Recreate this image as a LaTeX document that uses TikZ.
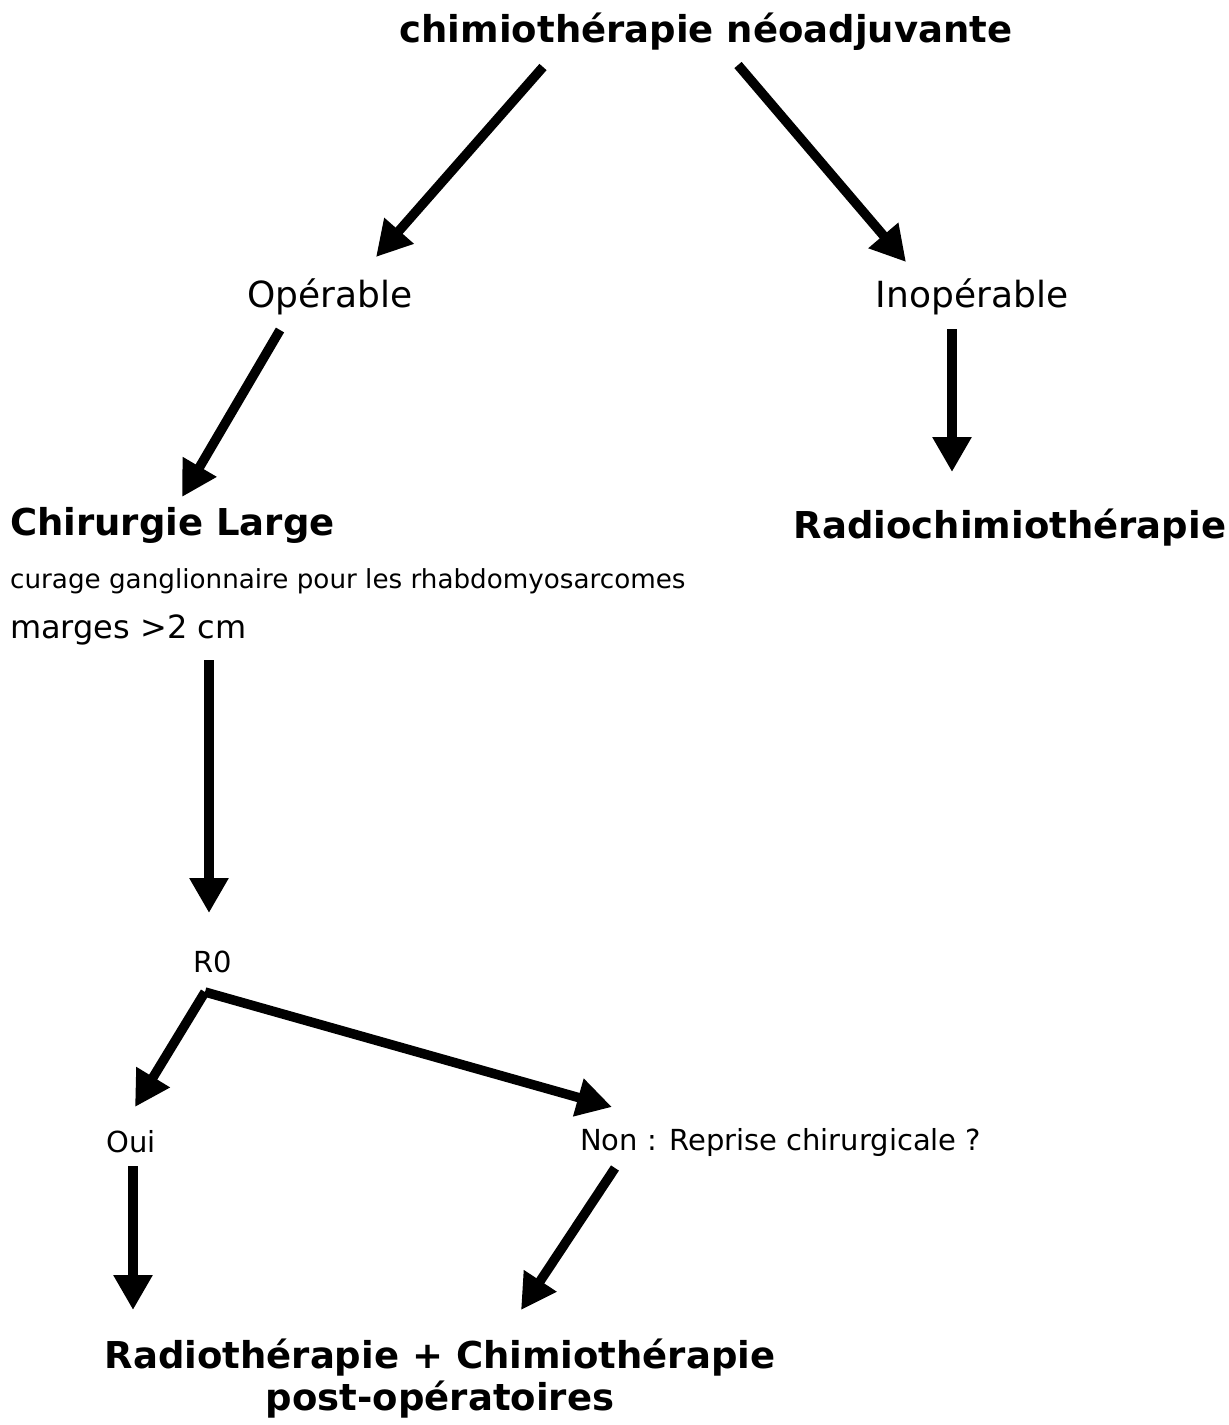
\documentclass[tikz,border=0pt]{standalone}
\usepackage{fontspec}
\setmainfont{DejaVu Sans}
\usetikzlibrary{arrows.meta}
\usetikzlibrary{calc}

\begin{document}
\begin{tikzpicture}[
                x=1pt, y=-1pt,
                every node/.style={inner sep=0pt},
                bigtext/.style={font=\bfseries\fontsize{37}{42}\selectfont},
                midtext/.style={font=\fontsize{36}{42}\selectfont},
                lowtext/.style={font=\fontsize{32}{38}\selectfont},
                smalltext/.style={font=\fontsize{29}{34}\selectfont},
                tinytext/.style={font=\fontsize{26.2}{30}\selectfont},
                arrow/.style={-{Triangle[width=37pt,length=35pt]}, line width=9.5pt},
            ]
            \useasboundingbox (0,0) rectangle (1229,1425);

            \node[bigtext] (title) at (706,32) {chimiothérapie néoadjuvante};
            \node[midtext] (operable) at (330,297) {Opérable};
            \node[midtext] (inoperable) at (972,297) {Inopérable};
            \node[bigtext, anchor=west] (chirurgie) at (10,525) {Chirurgie Large};
            \node[bigtext] (radiochimio) at (1010,528) {Radiochimiothérapie};
            \node[tinytext, anchor=west] (curage) at (10,581) {curage ganglionnaire pour les rhabdomyosarcomes};
            \node[lowtext, anchor=west] (marges) at (10,630) {marges >2 cm};
            \node[smalltext] (rzero) at (213,962) {R0};
            \node[smalltext] (oui) at (131,1142) {Oui};
            \node[smalltext, anchor=west] (non) at (580,1142) {Non : Reprise chirurgicale ?};
            \node[bigtext, align=center] (postop) at (440,1379) {Radiothérapie + Chimiothérapie\\post-opératoires};

            \draw[arrow] ($(title)+(-163,35)$) -- ($(operable)+(46,-40)$);
            \draw[arrow] ($(title)+(32,33)$) -- ($(inoperable)+(-66,-35)$);
            \draw[arrow] ($(operable)+(-50,33)$) -- ($(chirurgie.west)+(172,-28)$);
            \draw[arrow] ($(inoperable)+(-20,32)$) -- ($(radiochimio)+(-58,-56)$);
            \draw[arrow] ($(marges.west)+(199,30)$) -- ($(rzero)+(-4,-49)$);
            \draw[arrow] ($(rzero)+(-8,30)$) -- ($(oui)+(4,-35)$);
            \draw[arrow] ($(rzero)+(-8,30)$) -- ($(non.west)+(32,-35)$);
            \draw[arrow] ($(oui)+(2,24)$) -- ($(postop)+(-307,-69)$);
            \draw[arrow] ($(non.west)+(35,26)$) -- ($(postop)+(81,-69)$);
        \end{tikzpicture}
\end{document}
